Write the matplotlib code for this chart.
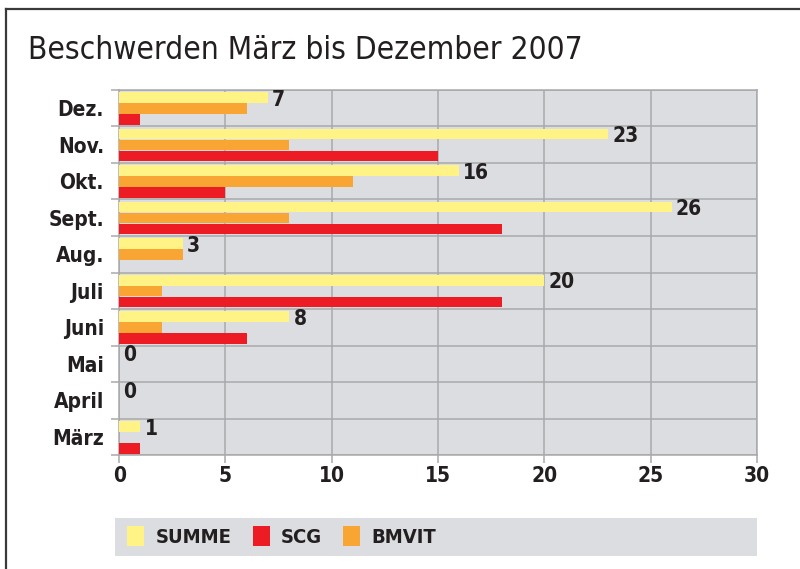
import matplotlib
matplotlib.use("Agg")
import matplotlib.pyplot as plt
from matplotlib.patches import Rectangle, Patch
from matplotlib.lines import Line2D
import numpy as np

# Monthly complaint counts, listed bottom-to-top as drawn
months = ["März", "April", "Mai", "Juni", "Juli", "Aug.", "Sept.", "Okt.", "Nov.", "Dez."]
summe = [1, 0, 0, 8, 20, 3, 26, 16, 23, 7]
bmvit = [0, 0, 0, 2, 2, 3, 8, 11, 8, 6]
scg = [1, 0, 0, 6, 18, 0, 18, 5, 15, 1]

series_names = ["SUMME", "SCG", "BMVIT"]
x_ticks = [0, 5, 10, 15, 20, 25, 30]

C_SUMME = "#fff385"
C_BMVIT = "#f9a533"
C_SCG = "#ed1c24"
C_BG = "#dcdde0"
C_GRID = "#a9a9ab"
C_TEXT = "#231f20"
FS = 15

plt.rcParams["font.family"] = ["DejaVu Sans Condensed", "DejaVu Sans"]
plt.rcParams["font.stretch"] = "condensed"

fig = plt.figure(figsize=(8.0, 5.69), dpi=100)
ax = fig.add_axes([0.149, 0.2, 0.797, 0.642])
ax.set_facecolor(C_BG)

y = np.arange(len(months))
h = 0.29
ax.barh(y + 0.29, summe, height=h, color=C_SUMME, zorder=3)
ax.barh(y - 0.01, bmvit, height=h, color=C_BMVIT, zorder=3)
ax.barh(y - 0.31, scg, height=h, color=C_SCG, zorder=3)

for yi, v in zip(y, summe):
    ax.annotate(str(v), xy=(v, yi + 0.23), xytext=(3, 0), textcoords="offset points",
                ha="left", va="center", fontsize=FS, fontweight="bold", color=C_TEXT, zorder=4)

ax.set_xlim(0, 30)
ax.set_ylim(-0.5, len(months) - 0.5)
ax.set_xticks(x_ticks)
ax.set_xticklabels([str(t) for t in x_ticks], fontsize=FS, fontweight="bold", color=C_TEXT)
ax.set_yticks(y)
ax.set_yticklabels(months, fontsize=FS, fontweight="bold", color=C_TEXT)
ax.set_yticks(np.arange(-0.5, len(months)), minor=True)

ax.tick_params(axis="y", which="major", length=0, pad=11)
ax.tick_params(axis="y", which="minor", length=6, color=C_GRID, width=1.1)
ax.tick_params(axis="x", which="major", length=6, color=C_GRID, width=1.1, pad=2)

ax.grid(True, axis="x", which="major", color=C_GRID, linewidth=1.1, zorder=1)
ax.grid(True, axis="y", which="minor", color=C_GRID, linewidth=1.1, zorder=1)
ax.set_axisbelow(True)
for s in ax.spines.values():
    s.set_color(C_GRID)
    s.set_linewidth(1.1)

# Title
fig.text(0.035, 0.896, "Beschwerden März bis Dezember 2007", fontsize=22.7,
         color=C_TEXT, ha="left", va="baseline")

# Frame lines at top and left
fig.add_artist(Line2D([0.0069, 1.0], [0.984, 0.984], transform=fig.transFigure,
                      color="#3a3a3a", linewidth=1.6))
fig.add_artist(Line2D([0.0069, 0.0069], [0.0, 0.984], transform=fig.transFigure,
                      color="#3a3a3a", linewidth=1.6))

# Legend band
fig.add_artist(Rectangle((0.144, 0.023), 0.802, 0.067, transform=fig.transFigure,
                         facecolor=C_BG, edgecolor="none", zorder=0))
handles = [Patch(facecolor=C_SUMME), Patch(facecolor=C_SCG), Patch(facecolor=C_BMVIT)]
leg = fig.legend(handles, series_names, loc="center left", bbox_to_anchor=(0.159, 0.0575),
                 ncol=3, frameon=False, handlelength=0.85, handleheight=1.15,
                 handletextpad=0.55, columnspacing=1.05, borderpad=0, borderaxespad=0,
                 prop={"size": 14.5, "weight": "bold"})
for t in leg.get_texts():
    t.set_color(C_TEXT)

fig.savefig("out.png", dpi=100)
